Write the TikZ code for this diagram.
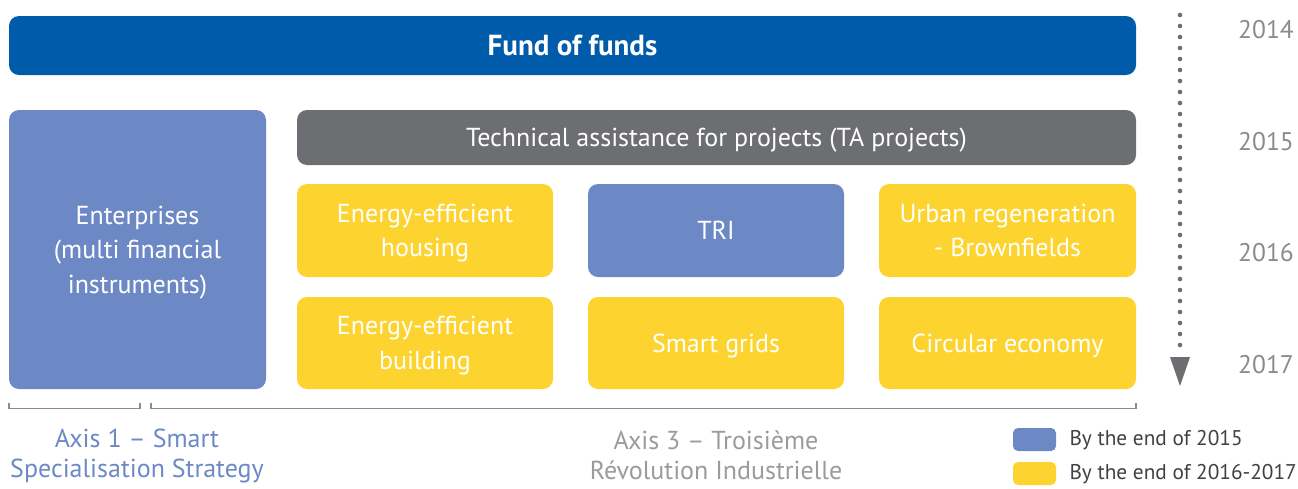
\documentclass[tikz,border=0pt]{standalone}
\usepackage{fontspec}
\setmainfont{PT Sans}
\usetikzlibrary{arrows.meta}
\definecolor{fundblue}{HTML}{005BAA}
\definecolor{lightblue}{HTML}{6C89C6}
\definecolor{tagray}{HTML}{6D6E71}
\definecolor{sunny}{HTML}{FDD42F}
\definecolor{axisgray}{HTML}{9B9B9E}
\definecolor{yeargray}{HTML}{8A8B8D}
\definecolor{legtext}{HTML}{414042}
\tikzset{
  box/.style={rounded corners=10pt, inner sep=0pt, text=white, align=center, text depth=0pt, font=\fontsize{26}{34.5}\selectfont},
  yearlbl/.style={text=yeargray, font=\fontsize{25.5}{28}\selectfont},
  legbox/.style={rounded corners=5pt, inner sep=0pt, minimum width=43pt, minimum height=23pt},
  legtxt/.style={text=legtext, anchor=west, font=\fontsize{21.3}{24}\selectfont},
  brack/.style={draw=yeargray, line width=1.2pt}
}
\begin{document}
\begin{tikzpicture}[x=1pt,y=-1pt]
\useasboundingbox (0,0) rectangle (1298,488);
% main boxes
\node[box, fill=fundblue, minimum width=1127pt, minimum height=59pt, font=\bfseries\fontsize{29}{34}\selectfont] (fund) at (572.5,45.5) {Fund of funds};
\node[box, fill=lightblue, minimum width=257pt, minimum height=279pt] (ent) at (137.5,249.5) {Enterprises\\(multi financial\\instruments)};
\node[box, fill=tagray, minimum width=839pt, minimum height=55pt] (ta) at (716.5,137.5) {Technical assistance for projects (TA projects)};
\node[box, fill=sunny, minimum width=256pt, minimum height=93pt] (housing) at (425,230.5) {Energy-efficient\\housing};
\node[box, fill=lightblue, minimum width=256pt, minimum height=93pt] (tri) at (716,230.5) {TRI};
\node[box, fill=sunny, minimum width=257pt, minimum height=93pt] (urban) at (1007.5,230.5) {Urban regeneration\\- Brownfields};
\node[box, fill=sunny, minimum width=256pt, minimum height=92pt] (building) at (425,343) {Energy-efficient\\building};
\node[box, fill=sunny, minimum width=256pt, minimum height=92pt] (grids) at (716,343) {Smart grids};
\node[box, fill=sunny, minimum width=257pt, minimum height=92pt] (circ) at (1007.5,343) {Circular economy};
% brackets
\draw[brack] (9,403) -- (9,408.5) -- (140,408.5) -- (140,403);
\draw[brack] (151,403) -- (151,408.5) -- (1136,408.5) -- (1136,403);
\node[text=lightblue, align=center, font=\fontsize{26}{30}\selectfont] (ax1) at (137,456) {Axis 1 -- Smart\\Specialisation Strategy};
\node[text=axisgray, align=center, font=\fontsize{26}{30}\selectfont] (ax3) at (716,455) {Axis 3 -- Troisième\\Révolution Industrielle};
% timeline
\coordinate (tlstart) at (1180,15);
\coordinate (tlend) at (1180,356);
\coordinate (tltip) at (1180,386);
\draw[tagray, line width=4.6pt, line cap=round, dash pattern=on 0pt off 11pt] (tlstart) -- (tlend);
\fill[tagray] (1170,357) -- (1190,357) -- (tltip) -- cycle;
\node[yearlbl] (y14) at (1266,30) {2014};
\node[yearlbl] (y15) at (1266,142) {2015};
\node[yearlbl] (y16) at (1266,253) {2016};
\node[yearlbl] (y17) at (1266,365) {2017};
% legend
\node[legbox, fill=lightblue] (lb1) at (1034.5,439.5) {};
\node[legbox, fill=sunny] (lb2) at (1034.5,473.5) {};
\node[legtxt] (lt1) at (1066,440) {By the end of 2015};
\node[legtxt] (lt2) at (1066,474) {By the end of 2016-2017};
\end{tikzpicture}
\end{document}
